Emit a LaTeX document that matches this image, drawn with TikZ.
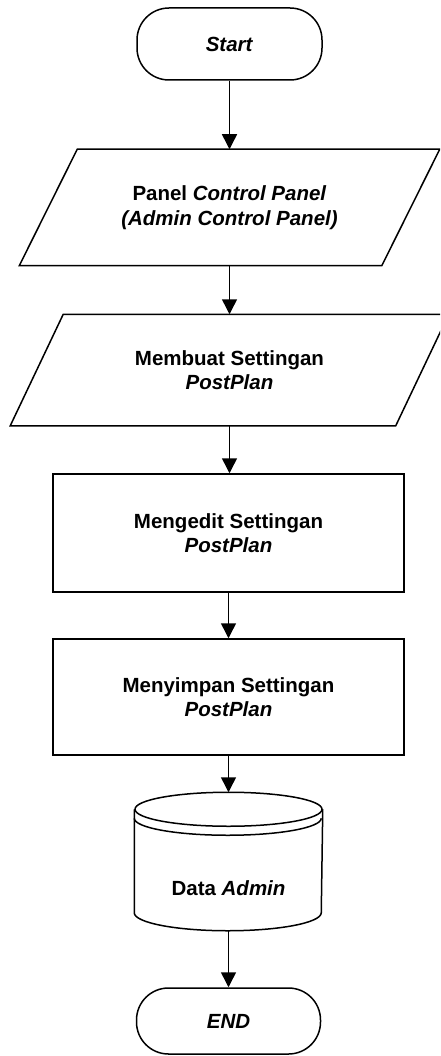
\documentclass[tikz,border=0pt]{standalone}
\usepackage{fontspec}
\setmainfont{Liberation Sans}
\usetikzlibrary{arrows.meta,calc}
\begin{document}
\begin{tikzpicture}[x=1pt,y=-1pt,
  line width=1.5pt,
  every node/.style={font=\fontsize{20.5}{24.5}\selectfont\bfseries, align=center, inner sep=0pt},
  terminal/.style={draw, rounded corners=32pt, minimum width=185pt, minimum height=72pt},
  process/.style={draw, minimum width=351pt, minimum height=118pt},
  iobox/.style={minimum width=#1},
  flow/.style={-{Triangle[width=15pt,length=15pt]}}
]
\useasboundingbox (0,0) rectangle (440,1056);
\fill[white] (0,0) rectangle (440,1056);
\clip (0,0) rectangle (440,1056);

% terminators and process boxes
\node[terminal] (start) at (229.5,44) {\textit{Start}};

\node[iobox=419pt, minimum height=115pt] (p1) at (229.5,207.5)
  {Panel \textit{Control Panel}\\\textit{(Admin Control Panel)}};
\draw (p1.south west) -- ([xshift=58pt]p1.north west) -- (p1.north east)
  -- ([xshift=-58pt]p1.south east) -- cycle;

\node[iobox=437pt, minimum height=110pt] (p2) at (229.5,370)
  {Membuat Settingan\\\textit{PostPlan}};
\draw (p2.south west) -- ([xshift=53pt]p2.north west) -- (p2.north east)
  -- ([xshift=-53pt]p2.south east) -- cycle;

\node[process] (edit) at (228.5,533) {Mengedit Settingan\\\textit{PostPlan}};
\node[process, minimum height=116pt] (save) at (228.5,697) {Menyimpan Settingan\\\textit{PostPlan}};

% database cylinder
\node[minimum width=187pt, minimum height=137pt] (db) at (228.5,861.5) {};
\node (dbtext) at (228.5,888) {Data \textit{Admin}};
\draw ([yshift=-17pt]db.north) ellipse[x radius=93.5pt, y radius=17pt];
\draw ([yshift=-26pt]db.north west) arc[start angle=180, end angle=360, x radius=93.5pt, y radius=17pt];
\draw ([yshift=-17pt]db.north west) -- ([yshift=18pt]db.south west)
  arc[start angle=180, end angle=360, x radius=93.5pt, y radius=18pt]
  -- ([yshift=-17pt]db.north east);

\node[terminal, minimum width=184pt, minimum height=66pt] (end) at (228.5,1021) {\textit{END}};

% connectors
\draw[flow] (start.south) -- (start.south |- p1.north);
\draw[flow] (p1.south) -- (p1.south |- p2.north);
\draw[flow] (p2.south) -- (p2.south |- edit.north);
\draw[flow] (edit.south) -- (edit.south |- save.north);
\draw[flow] (save.south) -- (save.south |- db.north);
\draw[flow] (db.south) -- (db.south |- end.north);
\end{tikzpicture}
\end{document}
